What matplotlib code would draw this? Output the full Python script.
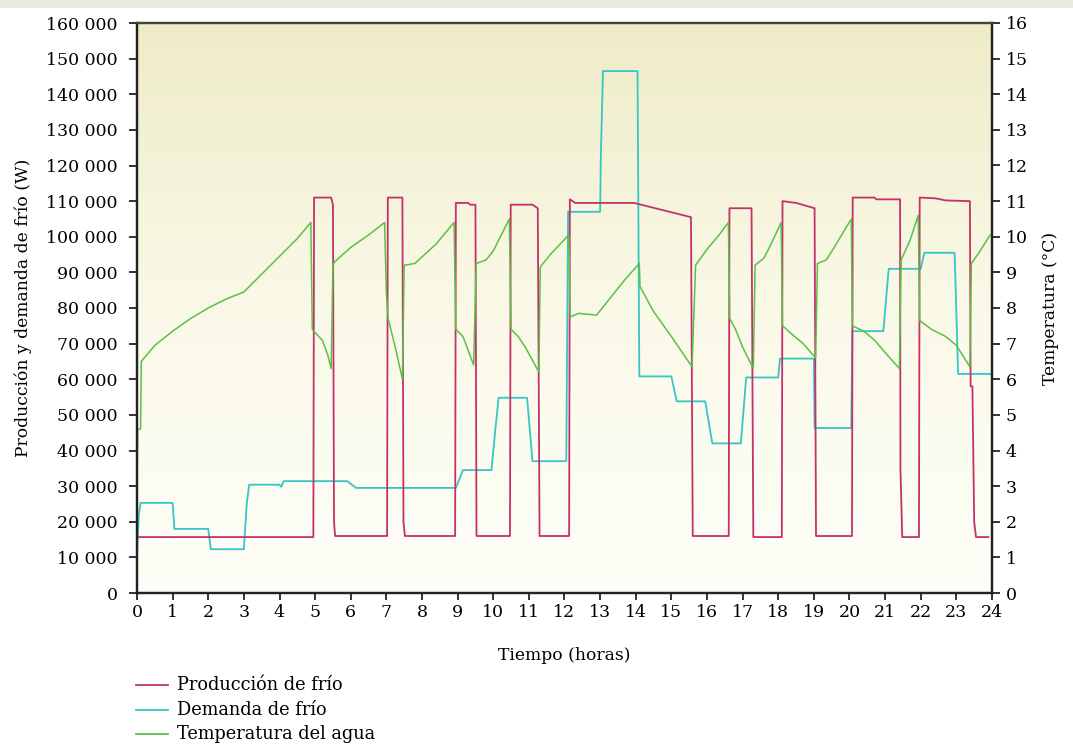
import numpy as np
import matplotlib
matplotlib.use("Agg")
import matplotlib.pyplot as plt
from matplotlib.lines import Line2D
from matplotlib.patches import Rectangle
from matplotlib.ticker import FuncFormatter

# ---------------- data ----------------
prod_t = [0, 4.95, 4.97, 5.45, 5.5, 5.53, 5.56, 7.02, 7.04, 7.45, 7.48, 7.52,
          8.93, 8.95, 9.3, 9.35, 9.5, 9.53, 10.47, 10.49, 11.1, 11.25, 11.3,
          12.13, 12.15, 12.3, 13.95, 15.55, 15.6, 16.61, 16.63, 17.25, 17.3,
          18.1, 18.12, 18.5, 19.02, 19.06, 20.07, 20.09, 20.7, 20.75, 21.4,
          21.42, 21.43, 21.48, 21.95, 21.97, 22.4, 22.7, 23.35, 23.38, 23.4,
          23.45, 23.5, 23.55, 23.9]
prod_w = [15700, 15700, 111000, 111000, 109000, 20000, 16000, 16000, 111000, 111000, 20000, 16000,
          16000, 109500, 109500, 109000, 109000, 16000, 16000, 109000, 109000, 108000, 16000,
          16000, 110500, 109500, 109500, 105500, 16000, 16000, 108000, 108000, 15700,
          15700, 110000, 109500, 108000, 16000, 16000, 111000, 111000, 110500, 110500,
          110500, 35000, 15700, 15700, 111000, 110800, 110200, 110000, 110000, 58000,
          58000, 20000, 15700, 15700]

dem_t = [0, 0.05, 0.1, 1.0, 1.05, 2.0, 2.07, 3.0, 3.08, 3.15, 4.0, 4.05, 4.12,
         5.9, 6.15, 8.95, 9.15, 9.95, 10.05, 10.15, 10.95, 11.1, 12.05, 12.1,
         13.0, 13.02, 13.08, 14.05, 14.1, 15.0, 15.15, 15.95, 16.15, 16.95,
         17.1, 18.0, 18.05, 19.0, 19.02, 20.05, 20.08, 20.95, 21.1, 22.0,
         22.1, 22.95, 23.05, 23.95]
dem_w = [10500, 22000, 25300, 25300, 18000, 18000, 12300, 12300, 25000, 30400, 30400, 29800, 31400,
         31400, 29500, 29500, 34500, 34500, 45000, 54800, 54800, 37000, 37000, 107000,
         107000, 122500, 146500, 146500, 60800, 60800, 53800, 53800, 42000, 42000,
         60500, 60500, 65800, 65800, 46300, 46300, 73500, 73500, 91000, 91000,
         95500, 95500, 61500, 61500]

temp_t = [0, 0.02, 0.1, 0.12, 0.5, 1.0, 1.5, 2.0, 2.5, 3.0, 3.5, 4.0, 4.5, 4.88,
          4.92, 5.1, 5.2, 5.35, 5.45, 5.5, 5.55, 6.0, 6.5, 6.95,
          7.0, 7.05, 7.25, 7.45, 7.5, 7.8, 8.4, 8.9,
          8.95, 9.15, 9.3, 9.45, 9.52, 9.8, 10.0, 10.45,
          10.5, 10.7, 10.9, 11.28, 11.32, 11.6, 12.12,
          12.16, 12.4, 12.9, 13.3, 13.7, 14.1, 14.12, 14.5, 15.0, 15.58,
          15.68, 16.0, 16.3, 16.6,
          16.64, 16.8, 17.0, 17.3, 17.35, 17.6, 17.85, 18.08,
          18.12, 18.4, 18.7, 19.05, 19.1, 19.35, 19.6, 20.05,
          20.08, 20.4, 20.7, 21.0, 21.4, 21.45, 21.7, 21.93,
          21.97, 22.3, 22.7, 23.0, 23.38, 23.42, 23.6, 23.95]
temp_c = [3.0, 4.6, 4.6, 6.5, 6.95, 7.35, 7.7, 8.0, 8.25, 8.45, 8.95, 9.45, 9.95, 10.4,
          7.4, 7.2, 7.1, 6.7, 6.3, 9.2, 9.3, 9.7, 10.05, 10.4,
          8.4, 7.7, 6.9, 6.0, 9.2, 9.25, 9.8, 10.4,
          7.4, 7.2, 6.8, 6.4, 9.25, 9.35, 9.6, 10.5,
          7.4, 7.2, 6.9, 6.2, 9.15, 9.5, 10.05,
          7.75, 7.85, 7.8, 8.3, 8.8, 9.25, 8.6, 7.9, 7.2, 6.35,
          9.2, 9.65, 10.0, 10.4,
          7.7, 7.4, 6.9, 6.3, 9.2, 9.4, 9.9, 10.4,
          7.5, 7.25, 7.0, 6.6, 9.25, 9.35, 9.75, 10.5,
          7.5, 7.35, 7.1, 6.75, 6.3, 9.35, 9.9, 10.6,
          7.65, 7.4, 7.2, 6.95, 6.35, 9.25, 9.5, 10.05]

x_ticks = list(range(0, 25))
left_ticks = list(range(0, 160001, 10000))
right_ticks = list(range(0, 17))
legend_labels = ["Producción de frío", "Demanda de frío", "Temperatura del agua"]

c_prod = "#c4316b"
c_dem = "#36c6c6"
c_temp = "#5cbf4a"

# ---------------- figure ----------------
W, H = 1073, 746
fig = plt.figure(figsize=(W / 100, H / 100), dpi=100)
fig.patch.set_facecolor("white")
fig.patches.append(Rectangle((0, 1 - 8 / H), 1, 8 / H, transform=fig.transFigure,
                             facecolor="#ebe8df", edgecolor="none", zorder=0))

ax = fig.add_axes([137 / W, 1 - 593 / H, (992 - 137) / W, (593 - 23) / H])
ax.set_xlim(0, 24)
ax.set_ylim(0, 160000)

# background gradient
n = 256
pos = np.linspace(0, 1, n)[:, None]  # 0 top -> 1 bottom
top = np.array([238, 236, 199]) / 255
mid = np.array([250, 249, 232]) / 255
bot = np.array([254, 254, 248]) / 255
grad = np.where(pos < 0.5, top + (mid - top) * (pos / 0.5), mid + (bot - mid) * ((pos - 0.5) / 0.5))
img = np.repeat(grad[:, None, :], 2, axis=1)
ax.imshow(img, extent=[0, 24, 0, 160000], aspect="auto", zorder=0, interpolation="bilinear")

ax.plot(prod_t, prod_w, color=c_prod, lw=1.3, zorder=3)
ax.plot(dem_t, dem_w, color=c_dem, lw=1.3, zorder=2)

ax2 = ax.twinx()
ax2.set_ylim(0, 16)
ax2.plot(temp_t, temp_c, color=c_temp, lw=1.1, zorder=2)

ax.set_xticks(x_ticks)
ax.set_yticks(left_ticks)
ax2.set_yticks(right_ticks)
ax.yaxis.set_major_formatter(FuncFormatter(lambda v, p: f"{int(v):,}".replace(",", " ")))
for lab in ax.get_xticklabels() + ax.get_yticklabels() + ax2.get_yticklabels():
    lab.set_fontfamily("DejaVu Serif")
    lab.set_fontsize(12.5)
ax.tick_params(axis="x", direction="out", length=5, width=1.2, color="#111111", pad=3)
ax.tick_params(axis="y", direction="out", length=6, width=1.2, color="#111111", pad=8)
ax2.tick_params(axis="y", direction="out", length=6, width=1.2, color="#111111", pad=4)

for a in (ax, ax2):
    for s in a.spines.values():
        s.set_color("#222222")
        s.set_linewidth(1.6)
    a.spines["top"].set_color("#444433")

lab_font = dict(family="DejaVu Serif", size=12.3)
ax.set_ylabel("Producción y demanda de frío (W)", fontdict=lab_font, labelpad=10)
ax2.set_ylabel("Temperatura (°C)", fontdict=lab_font, labelpad=10)
ax.set_xlabel("Tiempo (horas)", fontdict=lab_font, labelpad=19)

# legend (manual, below the plot)
leg_font = dict(family="DejaVu Serif", size=12.8)
rows = [685, 710, 734]
for y, lbl, col in zip(rows, legend_labels, [c_prod, c_dem, c_temp]):
    fy = 1 - y / H
    fig.add_artist(Line2D([136 / W, 168 / W], [fy, fy], transform=fig.transFigure,
                          color=col, lw=1.3))
    fig.text(177 / W, fy, lbl, fontdict=leg_font, va="center", ha="left")

fig.savefig("out.png", dpi=100)
